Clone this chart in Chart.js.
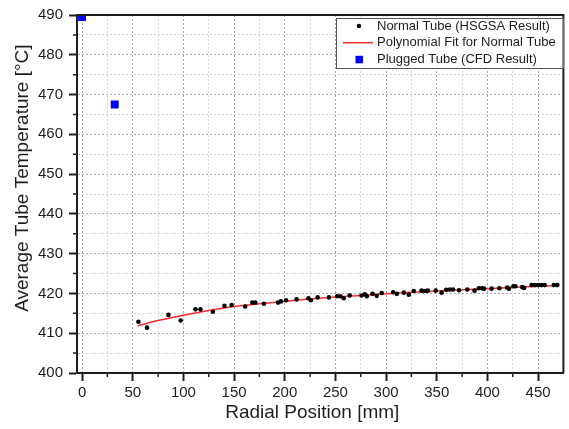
<!DOCTYPE html>
<html>
<head>
<meta charset="utf-8">
<script src="https://cdn.jsdelivr.net/npm/chart.js@4/dist/chart.umd.min.js"></script>
<style>
html,body{margin:0;padding:0;background:#fff;}
#wrap{width:569px;height:429px;}
</style>
</head>
<body>
<div id="wrap"><canvas id="c" width="569" height="429"></canvas></div>
<script>
// ---- data ----
const normalX = [55.6,64.1,85.2,97.3,111.9,116.8,129.1,140.5,147.6,161.0,168.0,171.0,179.5,193.4,196.2,201.3,211.7,223.4,225.8,232.5,243.6,251.7,255.0,258.2,264.1,275.8,279.0,281.0,286.6,290.7,295.7,307.0,310.7,317.5,322.4,327.3,335.0,338.2,341.2,349.0,354.8,359.4,363.0,366.1,372.0,380.2,387.3,391.5,394.8,396.7,404.1,411.8,419.5,421.2,425.7,427.6,434.3,436.2,443.6,446.8,450.1,453.4,456.6,465.5,469.0];
const normalT = [412.9,411.4,414.6,413.2,416.0,416.0,415.4,416.9,417.1,416.7,417.7,417.7,417.4,417.7,418.0,418.3,418.5,418.8,418.3,419.0,419.0,419.3,419.3,418.8,419.5,419.5,419.8,419.3,419.9,419.4,420.1,420.3,419.9,420.2,419.7,420.6,420.7,420.6,420.7,420.7,420.2,420.9,421.0,421.0,420.8,421.0,420.7,421.3,421.3,421.2,421.2,421.3,421.5,421.2,421.8,421.8,421.6,421.4,422.1,422.1,422.1,422.1,422.1,422.1,422.1];
const fitX = [55,75,100,125,150,175,200,225,250,275,300,325,350,375,400,425,450,470];
const fitT = [411.9,413.2,414.5,415.7,416.7,417.4,418.0,418.6,419.1,419.5,419.9,420.3,420.6,420.9,421.2,421.5,421.8,422.0];
const pluggedX = [0,32.2];
const pluggedT = [489.5,467.5];
const seriesNames = ['Normal Tube (HSGSA Result)','Polynomial Fit for Normal Tube','Plugged Tube (CFD Result)'];
const xTickValues = [0,25,50,75,100,125,150,175,200,225,250,275,300,325,350,375,400,425,450];
const yTickValues = [400,405,410,415,420,425,430,435,440,445,450,455,460,465,470,475,480,485,490];
const xLabelStep = 50;
const yLabelStep = 10;
const xTitle = 'Radial Position [mm]';
const yTitle = 'Average Tube Temperature [°C]';

const FONT = "'Liberation Sans', Arial, sans-serif";
const INK = '#1e1e1e';

const toPts = (xs, ys) => xs.map((x, i) => ({x: x, y: ys[i]}));

const framePlugin = {
  id: 'frame',
  afterDraw(chart) {
    const {ctx, chartArea: a, scales} = chart;
    ctx.save();
    // minor ticks
    ctx.strokeStyle = INK;
    ctx.lineWidth = 1.5;
    ctx.beginPath();
    xTickValues.forEach(v => {
      if (v % xLabelStep !== 0) {
        const px = scales.x.getPixelForValue(v);
        ctx.moveTo(px, a.bottom); ctx.lineTo(px, a.bottom + 4);
      }
    });
    yTickValues.forEach(v => {
      if (v % yLabelStep !== 0) {
        const py = scales.y.getPixelForValue(v);
        ctx.moveTo(a.left, py); ctx.lineTo(a.left - 4, py);
      }
    });
    ctx.stroke();
    // frame top/right
    ctx.lineWidth = 2;
    ctx.beginPath();
    ctx.moveTo(a.left, a.top); ctx.lineTo(a.right, a.top); ctx.lineTo(a.right, a.bottom);
    ctx.stroke();
    // legend box
    const lx = 336, ly = 18.5, lw = a.right - 336, lh = 50;
    ctx.fillStyle = '#fff';
    ctx.fillRect(lx, ly, lw, lh);
    ctx.lineWidth = 1;
    ctx.strokeStyle = '#555';
    ctx.strokeRect(lx + 0.5, ly, lw - 1, lh);
    const ds = chart.data.datasets;
    const rows = [26, 42.7, 59.3];
    ctx.font = '13px ' + FONT;
    ctx.textBaseline = 'middle';
    ctx.textAlign = 'left';
    ds.forEach((d, i) => {
      const y = rows[i];
      if (i === 0) {
        ctx.fillStyle = d.backgroundColor;
        ctx.beginPath(); ctx.arc(359, y, 2.2, 0, Math.PI * 2); ctx.fill();
      } else if (i === 1) {
        ctx.strokeStyle = d.borderColor; ctx.lineWidth = 1.5;
        ctx.beginPath(); ctx.moveTo(343, y); ctx.lineTo(373, y); ctx.stroke();
      } else {
        ctx.fillStyle = d.backgroundColor;
        ctx.fillRect(355.5, y - 3.5, 7.5, 7.5);
      }
      ctx.fillStyle = INK;
      ctx.fillText(d.label, 377, y);
    });
    ctx.restore();
  }
};

const gridColor = (c, step, first, last) => {
  const v = c.tick ? c.tick.value : 0;
  if (v === first || v === last) return 'rgba(0,0,0,0)';
  return v % step === 0 ? '#a9a9a9' : '#d9d9d9';
};

new Chart(document.getElementById('c'), {
  type: 'scatter',
  data: {
    datasets: [
      {
        label: seriesNames[0],
        data: toPts(normalX, normalT),
        backgroundColor: '#000000',
        borderColor: '#000000',
        pointRadius: 2.3,
        pointBorderWidth: 0,
        order: 1
      },
      {
        label: seriesNames[1],
        data: toPts(fitX, fitT),
        showLine: true,
        borderColor: '#ff2a2a',
        backgroundColor: '#ff2a2a',
        borderWidth: 1.5,
        pointRadius: 0,
        cubicInterpolationMode: 'monotone',
        order: 2
      },
      {
        label: seriesNames[2],
        data: toPts(pluggedX, pluggedT),
        pointStyle: 'rect',
        backgroundColor: '#0000ff',
        borderColor: '#0000ff',
        pointBorderWidth: 0,
        pointRadius: 5.6,
        order: 0
      }
    ]
  },
  options: {
    responsive: false,
    animation: false,
    devicePixelRatio: 1,
    layout: {padding: {top: 13, right: 1, bottom: 0, left: 0}},
    plugins: {legend: {display: false}, tooltip: {enabled: false}},
    scales: {
      x: {
        type: 'linear',
        min: -5, max: 475,
        afterBuildTicks: s => { s.ticks = xTickValues.map(v => ({value: v})); },
        afterFit: s => { s.height = 56; },
        ticks: {
          autoSkip: false, maxRotation: 0, padding: 3,
          color: INK, font: {family: FONT, size: 15},
          callback: v => (v % xLabelStep === 0 ? String(v) : '')
        },
        grid: {
          color: c => gridColor(c, xLabelStep, -999, 475),
          lineWidth: 1,
          tickLength: 8,
          tickWidth: 2,
          tickColor: c => { const v = c.tick ? c.tick.value : 0; return v % xLabelStep === 0 ? INK : 'rgba(0,0,0,0)'; }
        },
        border: {display: true, color: INK, width: 2, dash: [2, 2]},
        title: {
          display: true, text: xTitle + '   ', color: INK,
          font: {family: FONT, size: 19}, padding: {top: 0, bottom: 5}
        }
      },
      y: {
        type: 'linear',
        min: 400, max: 490,
        afterBuildTicks: s => { s.ticks = yTickValues.map(v => ({value: v})); },
        afterFit: s => { s.width = 77; },
        ticks: {
          autoSkip: false, padding: 6,
          color: INK, font: {family: FONT, size: 15},
          callback: v => (v % yLabelStep === 0 ? String(v) : '')
        },
        grid: {
          color: c => gridColor(c, yLabelStep, 400, 490),
          lineWidth: 1,
          tickLength: 8,
          tickWidth: 2,
          tickColor: c => { const v = c.tick ? c.tick.value : 0; return v % yLabelStep === 0 ? INK : 'rgba(0,0,0,0)'; }
        },
        border: {display: true, color: INK, width: 2, dash: [2, 2]},
        title: {
          display: true, text: '      ' + yTitle, color: INK,
          font: {family: FONT, size: 19}, padding: {top: 11, bottom: 0}
        }
      }
    }
  },
  plugins: [framePlugin]
});
</script>
</body>
</html>
